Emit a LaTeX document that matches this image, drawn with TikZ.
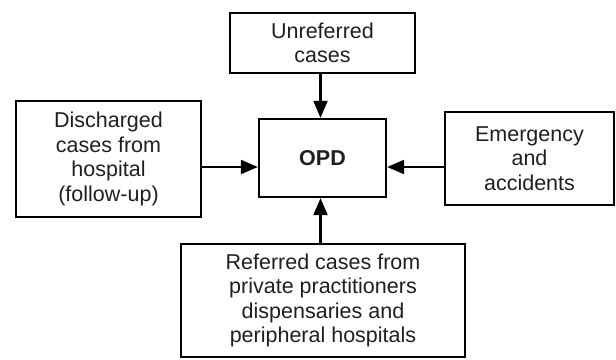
\documentclass[tikz,border=0pt]{standalone}
\usepackage{fontspec}
\setmainfont{Liberation Sans}
\usetikzlibrary{arrows.meta}
\begin{document}
\begin{tikzpicture}[x=1pt,y=-1pt,
  box/.style={draw=black, line width=2.3pt, inner sep=0pt, align=center,
    font=\fontsize{21.5}{24.5}\selectfont, text=black!88},
  arr/.style={line width=2.1pt, -{Triangle[length=17pt,width=14pt]}}]
  \useasboundingbox (0,0) rectangle (616,359);
  % central department
  \node[box, minimum width=127pt, minimum height=78pt, font=\fontsize{21.5}{24.5}\selectfont\bfseries] (opd) at (322.5,158) {OPD};
  % sources of patients
  \node[box, minimum width=185pt, minimum height=60pt] (top) at (322.5,43) {Unreferred\\cases};
  \node[box, minimum width=185pt, minimum height=116pt] (left) at (108.5,159) {Discharged\\cases from\\hospital\\(follow-up)};
  \node[box, minimum width=169pt, minimum height=93pt] (right) at (529.5,158.5) {Emergency\\and\\accidents};
  \node[box, minimum width=284pt, minimum height=113pt] (bottom) at (323,300.5) {Referred cases from\\private practitioners\\dispensaries and\\peripheral hospitals};
  % flows into the OPD
  \coordinate (lvl) at (0,167);
  \coordinate (col) at (320.5,0);
  \draw[arr] (top.south -| col) -- (opd.north -| col);
  \draw[arr] (left.east |- lvl) -- (opd.west |- lvl);
  \draw[arr] (right.west |- lvl) -- (opd.east |- lvl);
  \draw[arr] (bottom.north -| col) -- (opd.south -| col);
\end{tikzpicture}
\end{document}
